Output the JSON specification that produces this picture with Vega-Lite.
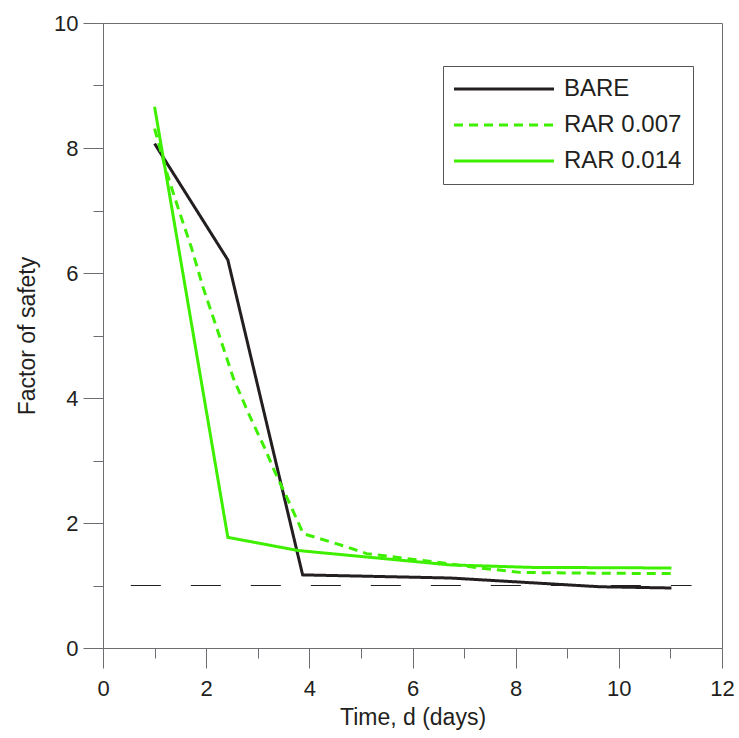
{
  "$schema": "https://vega.github.io/schema/vega-lite/v6.json",
  "width": 619,
  "height": 625,
  "autosize": {"type": "none"},
  "padding": {"left": 103, "top": 23, "right": 17, "bottom": 90},
  "background": "white",
  "config": {
    "view": {"stroke": "#6d6e71", "strokeWidth": 1},
    "font": "Liberation Sans",
    "axis": {
      "domainColor": "#6d6e71",
      "tickColor": "#6d6e71",
      "labelColor": "#231f20",
      "titleColor": "#231f20",
      "labelFont": "Liberation Sans",
      "titleFont": "Liberation Sans",
      "labelFontSize": 22,
      "titleFontSize": 23,
      "titleFontWeight": "normal",
      "grid": false,
      "domainWidth": 1,
      "tickWidth": 1,
      "labelFlush": false
    },
    "legend": {
      "orient": "none",
      "legendX": 340,
      "legendY": 43,
      "direction": "vertical",
      "strokeColor": "#555555",
      "fillColor": "white",
      "padding": 11,
      "symbolType": "M-5,0H5",
      "symbolSize": 400,
      "symbolOffset": 38,
      "symbolStrokeWidth": 3,
      "labelFont": "Liberation Sans",
      "labelFontSize": 24,
      "labelColor": "#231f20",
      "labelOffset": 48,
      "rowPadding": 12,
      "labelLimit": 300
    }
  },
  "layer": [
    {
      "data": {"values": [{"x": 0.54, "x2": 11.41, "y": 1}]},
      "mark": {"type": "rule", "color": "#231f20", "strokeWidth": 1.2, "strokeDash": [30, 30]},
      "encoding": {
        "x": {"field": "x", "type": "quantitative", "scale": {"domain": [0, 12], "nice": false},
          "axis": {"orient": "bottom", "values": [1, 3, 5, 7, 9, 11], "tickSize": 10, "labels": false, "domain": false, "title": null}},
        "x2": {"field": "x2"},
        "y": {"field": "y", "type": "quantitative", "scale": {"domain": [0, 10], "nice": false},
          "axis": {"orient": "left", "values": [1, 3, 5, 7, 9], "tickSize": 10, "labels": false, "domain": false, "title": null}}
      }
    },
    {
      "data": {"values": [
        {"series": "BARE", "t": 1.0, "fs": 8.07},
        {"series": "BARE", "t": 2.42, "fs": 6.21},
        {"series": "BARE", "t": 3.87, "fs": 1.17},
        {"series": "BARE", "t": 6.73, "fs": 1.12},
        {"series": "BARE", "t": 9.63, "fs": 0.98},
        {"series": "BARE", "t": 11.02, "fs": 0.96},
        {"series": "RAR 0.007", "t": 1.0, "fs": 8.31},
        {"series": "RAR 0.007", "t": 1.23, "fs": 7.62},
        {"series": "RAR 0.007", "t": 1.46, "fs": 7.03},
        {"series": "RAR 0.007", "t": 1.72, "fs": 6.39},
        {"series": "RAR 0.007", "t": 1.94, "fs": 5.77},
        {"series": "RAR 0.007", "t": 2.27, "fs": 4.96},
        {"series": "RAR 0.007", "t": 2.53, "fs": 4.31},
        {"series": "RAR 0.007", "t": 2.85, "fs": 3.7},
        {"series": "RAR 0.007", "t": 3.14, "fs": 3.19},
        {"series": "RAR 0.007", "t": 3.33, "fs": 2.82},
        {"series": "RAR 0.007", "t": 3.62, "fs": 2.31},
        {"series": "RAR 0.007", "t": 3.79, "fs": 2.0},
        {"series": "RAR 0.007", "t": 3.88, "fs": 1.83},
        {"series": "RAR 0.007", "t": 4.72, "fs": 1.62},
        {"series": "RAR 0.007", "t": 5.11, "fs": 1.51},
        {"series": "RAR 0.007", "t": 6.6, "fs": 1.36},
        {"series": "RAR 0.007", "t": 7.31, "fs": 1.28},
        {"series": "RAR 0.007", "t": 8.08, "fs": 1.21},
        {"series": "RAR 0.007", "t": 8.99, "fs": 1.2},
        {"series": "RAR 0.007", "t": 11.02, "fs": 1.19},
        {"series": "RAR 0.014", "t": 1.0, "fs": 8.66},
        {"series": "RAR 0.014", "t": 2.42, "fs": 1.77},
        {"series": "RAR 0.014", "t": 3.78, "fs": 1.56},
        {"series": "RAR 0.014", "t": 6.72, "fs": 1.33},
        {"series": "RAR 0.014", "t": 8.3, "fs": 1.29},
        {"series": "RAR 0.014", "t": 11.02, "fs": 1.28}
      ]},
      "mark": {"type": "line", "strokeWidth": 3},
      "encoding": {
        "x": {"field": "t", "type": "quantitative", "scale": {"domain": [0, 12], "nice": false},
          "axis": {"orient": "bottom", "values": [0, 2, 4, 6, 8, 10, 12], "tickSize": 20, "labelPadding": 10, "title": "Time, d (days)", "titlePadding": 7}},
        "y": {"field": "fs", "type": "quantitative", "scale": {"domain": [0, 10], "nice": false},
          "axis": {"orient": "left", "values": [0, 2, 4, 6, 8, 10], "tickSize": 20, "labelPadding": 5, "title": "Factor of safety", "titlePadding": 14}},
        "color": {"field": "series", "type": "nominal",
          "scale": {"domain": ["BARE", "RAR 0.007", "RAR 0.014"], "range": ["#231f20", "#3ef000", "#3ef000"]},
          "legend": {"title": null}},
        "strokeDash": {"field": "series", "type": "nominal",
          "scale": {"domain": ["BARE", "RAR 0.007", "RAR 0.014"], "range": [[1, 0], [9, 6], [1, 0]]},
          "legend": {"title": null}}
      }
    }
  ],
  "resolve": {"scale": {"x": "independent", "y": "independent"}}
}
